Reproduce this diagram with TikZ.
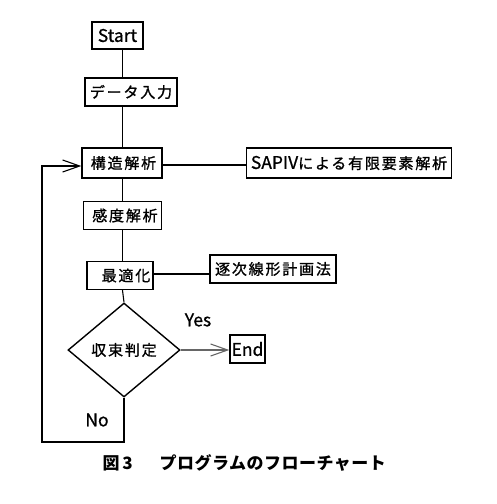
\documentclass[tikz,border=0pt]{standalone}
\usepackage{fontspec}
\usetikzlibrary{arrows.meta,shapes.geometric}
\setmainfont{Noto Sans CJK JP}
\newfontfamily\jp{Noto Sans CJK JP}[LetterSpace=12,FakeBold=1.2]
\newfontfamily\lat{Noto Sans CJK JP}[FakeBold=0.8]
\newfontfamily\capf{Noto Sans CJK JP}[LetterSpace=3]
\newcommand{\boxfont}{\jp\fontsize{15}{18}\selectfont}
\newcommand{\latfont}{\lat\fontsize{17.5}{20}\selectfont}
\begin{document}
\begin{tikzpicture}[x=1pt,y=-1pt,line width=1.1pt,
  box/.style={draw,line width=1.4pt,inner sep=0pt,font=\boxfont},
  chev/.style={-{Straight Barb[length=17pt,width=12pt,line width=1.1pt]}},
  lbl/.style={inner sep=0pt,font=\latfont}]
\useasboundingbox (0,0) rectangle (496,504);
\coordinate (sp) at (122.5,0);
\node[box,minimum width=51pt,minimum height=27pt,font=\latfont] (start) at (117.5,35.5) {Start};
\node[box,minimum width=92pt,minimum height=28pt] (data) at (131,92) {データ入力};
\node[box,minimum width=80pt,minimum height=30pt] (kozo) at (122,163) {\hspace*{3pt}構造解析};
\node[box,minimum width=205pt,minimum height=30pt] (sap) at (349,163) {{\latfont SAPIV}による有限要素解析};
\node[box,minimum width=78pt,minimum height=28pt] (kando) at (122.5,215.5) {\hspace*{5pt}感度解析};
\node[box,minimum width=66pt,minimum height=28pt] (saiteki) at (120,275.5) {\hspace*{12pt}最適化};
\node[box,minimum width=126pt,minimum height=28pt] (chiku) at (273,269) {逐次線形計画法};
\node[draw,diamond,line width=1.4pt,inner sep=0pt,minimum width=112pt,minimum height=94pt,font=\boxfont] (hantei) at (124,350) {収束判定};
\node[box,minimum width=35pt,minimum height=28pt,font=\latfont] (end) at (247.5,349) {End};
\node[lbl] (yes) at (198,320) {Yes};
\node[lbl] (no) at (97,420) {No};
\coordinate (lb) at (42,442);
\coordinate (lt) at (42,166);
\draw (start.south -| sp) -- (data.north -| sp);
\draw (data.south -| sp) -- (kozo.north -| sp);
\draw (kozo.south -| sp) -- (kando.north -| sp);
\draw (kando.south -| sp) -- (saiteki.north -| sp);
\draw (saiteki.south -| sp) -- (hantei.north);
\draw (kozo.east |- 0,165) -- (sap.west |- 0,165);
\draw (saiteki.east |- 0,274) -- (chiku.west |- 0,274);
\draw[chev,black!60] (hantei.east) -- (end.west |- hantei.east);
\draw[chev] (hantei.south) |- (lb) -- (lt) -- (lt -| kozo.west);
\node[anchor=west,inner sep=0pt,font=\capf\bfseries\fontsize{17}{20}\selectfont] (fig) at (102,463) {図\,3};
\node[anchor=west,inner sep=0pt,font=\capf\bfseries\fontsize{17}{20}\selectfont] (cap) at (159,463) {プログラムのフローチャート};
\end{tikzpicture}
\end{document}
